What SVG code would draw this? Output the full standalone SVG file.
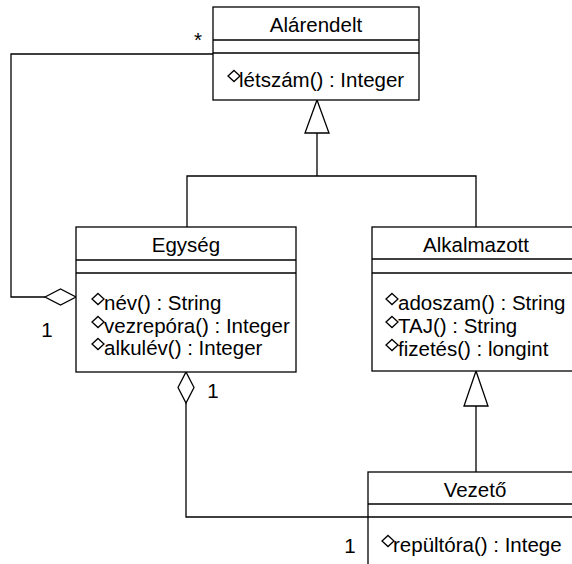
<svg xmlns="http://www.w3.org/2000/svg" width="572" height="564" viewBox="0 0 572 564">
<style>
  .box { fill: #fff; stroke: #000; stroke-width: 1.3; }
  .ln { fill: none; stroke: #000; stroke-width: 1.3; }
  .hd { fill: #fff; stroke: #000; stroke-width: 1.3; }
  .ic { fill: #fff; stroke: #000; stroke-width: 1.3; }
  text { font-family: "Liberation Sans", Arial, sans-serif; font-size: 20.5px; fill: #000; }
  .c { text-anchor: middle; }
</style>
<defs>
  <polygon id="op" class="ic" points="0,-5.5 6,0 0,5.5 -6,0"/>
</defs>
<rect width="572" height="564" fill="#fff"/>

<g id="connectors">
  <polyline class="ln" points="213,54 11,54 11,297 45,297"/>
  <polygon class="hd" points="45,297 60.5,289 76,297 60.5,305"/>
  <polyline class="ln" points="187,227 187,176 476,176 476,227"/>
  <line class="ln" x1="317" y1="133" x2="317" y2="176"/>
  <polygon class="hd" points="317,100 329,133 305,133"/>
  <line class="ln" x1="476" y1="406" x2="476" y2="472"/>
  <polygon class="hd" points="476,371 488,406 464,406"/>
  <polyline class="ln" points="186,403 186,517 368,517"/>
  <polygon class="hd" points="186,372 194,387.5 186,403 178,387.5"/>
  <text x="198" y="47" class="c">*</text>
  <text x="47" y="337" class="c">1</text>
  <text x="213" y="398" class="c">1</text>
  <text x="350" y="553" class="c">1</text>
</g>

<g id="alarendelt">
  <rect class="box" x="213" y="7" width="206" height="93"/>
  <line class="ln" x1="213" y1="40" x2="419" y2="40"/>
  <line class="ln" x1="213" y1="53" x2="419" y2="53"/>
  <text x="316" y="32" class="c">Alárendelt</text>
  <use href="#op" x="234" y="76"/>
  <text x="239" y="87">létszám() : Integer</text>
</g>

<g id="egyseg">
  <rect class="box" x="76" y="227" width="220" height="145"/>
  <line class="ln" x1="76" y1="260" x2="296" y2="260"/>
  <line class="ln" x1="76" y1="273" x2="296" y2="273"/>
  <text x="186" y="252" class="c">Egység</text>
  <use href="#op" x="98" y="299"/>
  <text x="104" y="310">név() : String</text>
  <use href="#op" x="98" y="322"/>
  <text x="104" y="333">vezrepóra() : Integer</text>
  <use href="#op" x="98" y="344"/>
  <text x="104" y="355">alkulév() : Integer</text>
</g>

<g id="alkalmazott">
  <rect class="box" x="372" y="227" width="208" height="144"/>
  <line class="ln" x1="372" y1="259" x2="580" y2="259"/>
  <line class="ln" x1="372" y1="273" x2="580" y2="273"/>
  <text x="476" y="252" class="c">Alkalmazott</text>
  <use href="#op" x="392" y="299"/>
  <text x="398" y="310">adoszam() : String</text>
  <use href="#op" x="392" y="322"/>
  <text x="398" y="333">TAJ() : String</text>
  <use href="#op" x="392" y="345"/>
  <text x="398" y="356">fizetés() : longint</text>
</g>

<g id="vezeto">
  <rect class="box" x="368" y="472" width="212" height="100"/>
  <line class="ln" x1="368" y1="504" x2="580" y2="504"/>
  <line class="ln" x1="368" y1="517" x2="580" y2="517"/>
  <text x="475" y="497" class="c">Vezető</text>
  <use href="#op" x="388" y="541"/>
  <text x="393" y="552">repültóra() : Intege</text>
</g>
</svg>
